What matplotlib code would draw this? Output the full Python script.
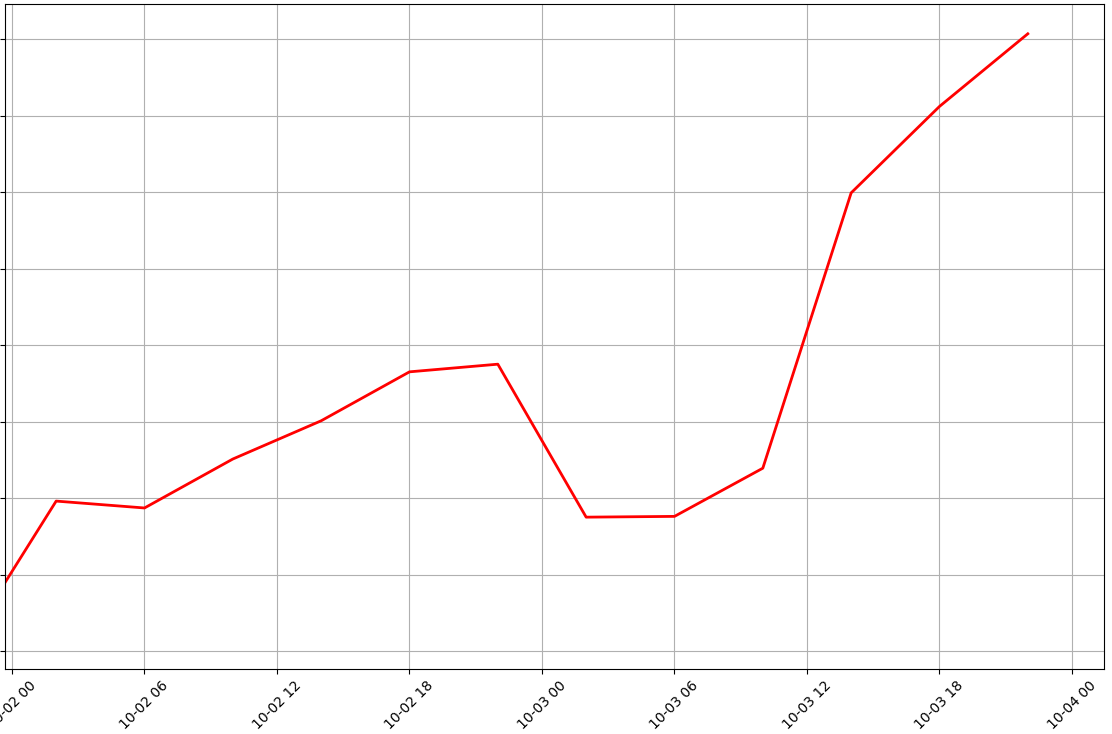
import matplotlib
matplotlib.use("Agg")
import matplotlib.pyplot as plt
import matplotlib.dates as mdates
import numpy as np
import pandas as pd

# 4-hourly readings
times = pd.to_datetime([
    "2023-10-01 22:00", "2023-10-02 02:00", "2023-10-02 06:00", "2023-10-02 10:00",
    "2023-10-02 14:00", "2023-10-02 18:00", "2023-10-02 22:00", "2023-10-03 02:00",
    "2023-10-03 06:00", "2023-10-03 10:00", "2023-10-03 14:00", "2023-10-03 18:00",
    "2023-10-03 22:00",
])
values = [0.12, 1.96, 1.87, 2.51, 3.01, 3.65, 3.75, 1.75, 1.76, 2.39, 5.99, 7.12, 8.07]
yticks = np.arange(0, 9)

fig = plt.figure(figsize=(11.12, 7.34), dpi=100)
ax = fig.add_axes([0.0045, 0.0886, 0.9883, 0.906])
ax.plot(times, values, color="red", linewidth=2)

ax.set_xlim(pd.Timestamp("2023-10-01 23:41"), pd.Timestamp("2023-10-04 01:27"))
ax.set_ylim(-0.235, 8.46)
ax.set_yticks(yticks)
ax.set_yticklabels([])

ax.xaxis.set_major_locator(mdates.HourLocator(byhour=[0, 6, 12, 18]))
ax.xaxis.set_major_formatter(mdates.DateFormatter("%m-%d %H"))
plt.setp(ax.get_xticklabels(), rotation=45)
ax.grid(True)

fig.savefig("out.png", dpi=100)
